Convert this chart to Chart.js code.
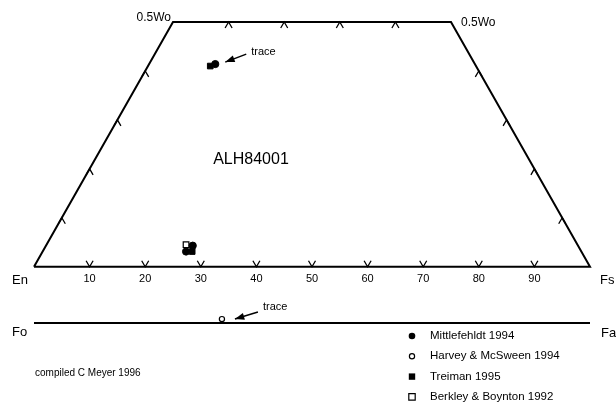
<!DOCTYPE html>
<html>
<head>
<meta charset="utf-8">
<script src="https://cdn.jsdelivr.net/npm/chart.js@4/dist/chart.umd.min.js"></script>
<style>
  html, body { margin: 0; padding: 0; background: #ffffff; }
  #wrap { width: 616px; height: 403px; }
</style>
</head>
<body>
<div id="wrap"><canvas id="quadChart" width="616" height="403"></canvas></div>
<script>
// pyroxene compositions (mol %)
const mittFs = [11.9, 26.4, 25.8];
const mittWo = [41.4, 4.3, 3.1];
const treimanFs = [11.2, 26.9];
const treimanWo = [41.0, 3.1];
const berkleyFs = [25.1];
const berkleyWo = [4.5];
// olivine (Fa mol %)
const harveyFa = [33.8];

const baseTicks = [10, 20, 30, 40, 50, 60, 70, 80, 90];
const topTicks = [10, 20, 30, 40];   // Fs along the Di-Hd join
const sideTicks = [10, 20, 30, 40];  // Wo along the side joins
const olivineRow = -11.5;            // row for the Fo-Fa line

const legendItems = [
    { label: 'Mittlefehldt 1994', style: 'circle', filled: true },
    { label: 'Harvey & McSween 1994', style: 'circle', filled: false },
    { label: 'Treiman 1995', style: 'rect', filled: true },
    { label: 'Berkley & Boynton 1992', style: 'rect', filled: false }
];

const FONT = "'Liberation Sans', Arial, sans-serif";

// quadrilateral x position: Fs + Wo/2
function toPoints(fs, wo) {
    return fs.map((f, i) => ({ x: f + wo[i] / 2, y: wo[i] }));
}

const edgeStyle = {
    type: 'line', showLine: true, borderColor: '#000', borderWidth: 2,
    pointRadius: 0, pointHoverRadius: 0, fill: false, tension: 0, clip: false
};

const quadOutline = [
    { x: 0, y: 0 }, { x: 25, y: 50 }, { x: 75, y: 50 }, { x: 100, y: 0 }, { x: 0, y: 0 }
];
const olivineLine = [{ x: 0, y: olivineRow }, { x: 100, y: olivineRow }];

const labelPlugin = {
    id: 'quadLabels',
    afterDatasetsDraw(chart) {
        const ctx = chart.ctx;
        const xs = chart.scales.x, ys = chart.scales.y;
        const px = v => xs.getPixelForValue(v);
        const py = v => ys.getPixelForValue(v);
        ctx.save();
        ctx.strokeStyle = '#000';
        ctx.fillStyle = '#000';
        ctx.lineWidth = 1.3;

        function chevron(x, y, dir) {
            // dir = 1: arms go up (V), dir = -1: arms go down (^)
            ctx.beginPath();
            ctx.moveTo(x - 3.5, y - 6 * dir);
            ctx.lineTo(x, y);
            ctx.lineTo(x + 3.5, y - 6 * dir);
            ctx.stroke();
        }
        baseTicks.forEach(t => chevron(px(t), py(0), 1));
        topTicks.forEach(t => chevron(px(t + 25), py(50), -1));
        sideTicks.forEach(w => {
            chevron(px(w / 2), py(w), -1);
            chevron(px(100 - w / 2), py(w), -1);
        });

        ctx.font = '11px ' + FONT;
        ctx.textAlign = 'center';
        ctx.textBaseline = 'middle';
        baseTicks.forEach(t => ctx.fillText(String(t), px(t), py(0) + 12));

        ctx.font = '12px ' + FONT;
        ctx.textAlign = 'right';
        ctx.fillText('0.5Wo', px(25) - 2, py(50) - 4);
        ctx.textAlign = 'left';
        ctx.fillText('0.5Wo', px(75) + 10, py(50) + 1);

        ctx.font = '13px ' + FONT;
        ctx.textAlign = 'left';
        ctx.fillText('En', 12, py(0) + 14);
        ctx.fillText('Fs', 600, py(0) + 14);
        ctx.fillText('Fo', 12, py(olivineRow) + 9);
        ctx.fillText('Fa', 601, py(olivineRow) + 10);

        ctx.font = '16px ' + FONT;
        ctx.textAlign = 'center';
        ctx.fillText('ALH84001', 251, 160);

        // trace arrows
        function arrow(x0, y0, x1, y1) {
            ctx.lineWidth = 1.5;
            ctx.beginPath();
            ctx.moveTo(x0, y0);
            ctx.lineTo(x1, y1);
            ctx.stroke();
            const a = Math.atan2(y1 - y0, x1 - x0);
            ctx.beginPath();
            ctx.moveTo(x1, y1);
            ctx.lineTo(x1 - 10 * Math.cos(a - 0.35), y1 - 10 * Math.sin(a - 0.35));
            ctx.lineTo(x1 - 10 * Math.cos(a + 0.35), y1 - 10 * Math.sin(a + 0.35));
            ctx.closePath();
            ctx.fill();
        }
        const up = { x: px(mittFs[0] + mittWo[0] / 2), y: py(mittWo[0]) };
        arrow(up.x + 31, up.y - 10, up.x + 10, up.y - 2);
        const lo = { x: px(harveyFa[0]), y: py(olivineRow + 0.8) };
        arrow(lo.x + 36, lo.y - 7, lo.x + 13, lo.y);
        ctx.font = '11px ' + FONT;
        ctx.textAlign = 'left';
        ctx.fillText('trace', up.x + 36, up.y - 12);
        ctx.fillText('trace', lo.x + 41, lo.y - 12);

        // legend
        ctx.lineWidth = 1.2;
        ctx.font = '11.5px ' + FONT;
        legendItems.forEach((item, i) => {
            const lx = 412, ly = 336 + i * 20.3;
            ctx.beginPath();
            if (item.style === 'circle') {
                ctx.arc(lx, ly, item.filled ? 3.3 : 2.6, 0, Math.PI * 2);
            } else {
                ctx.rect(lx - 3.2, ly - 3.2, 6.4, 6.4);
            }
            if (item.filled) ctx.fill(); else ctx.stroke();
            ctx.fillText(item.label, lx + 18, ly);
        });

        ctx.font = '10px ' + FONT;
        ctx.fillText('compiled C Meyer 1996', 35, 373);
        ctx.restore();
    }
};

new Chart(document.getElementById('quadChart'), {
    type: 'scatter',
    data: {
        datasets: [
            Object.assign({ data: quadOutline }, edgeStyle),
            Object.assign({ data: olivineLine }, edgeStyle),
            {
                label: 'Mittlefehldt 1994', data: toPoints(mittFs, mittWo),
                pointStyle: 'circle', pointRadius: 3.6, backgroundColor: '#000', borderColor: '#000', clip: false
            },
            {
                label: 'Treiman 1995', data: toPoints(treimanFs, treimanWo),
                pointStyle: 'rect', pointRadius: 4, backgroundColor: '#000', borderColor: '#000', clip: false
            },
            {
                label: 'Berkley & Boynton 1992', data: toPoints(berkleyFs, berkleyWo),
                pointStyle: 'rect', pointRadius: 4, backgroundColor: '#fff', borderColor: '#000', borderWidth: 1.2, clip: false
            },
            {
                label: 'Harvey & McSween 1994', data: harveyFa.map(f => ({ x: f, y: olivineRow + 0.8 })),
                pointStyle: 'circle', pointRadius: 2.6, backgroundColor: '#fff', borderColor: '#000', borderWidth: 1.2, clip: false
            }
        ]
    },
    options: {
        responsive: false,
        animation: false,
        layout: { padding: { left: 34, right: 26, top: 22, bottom: 80 } },
        plugins: { legend: { display: false }, tooltip: { enabled: false } },
        scales: {
            x: { type: 'linear', min: 0, max: 100, display: false },
            y: { type: 'linear', min: olivineRow, max: 50, display: false }
        }
    },
    plugins: [labelPlugin]
});
</script>
</body>
</html>
